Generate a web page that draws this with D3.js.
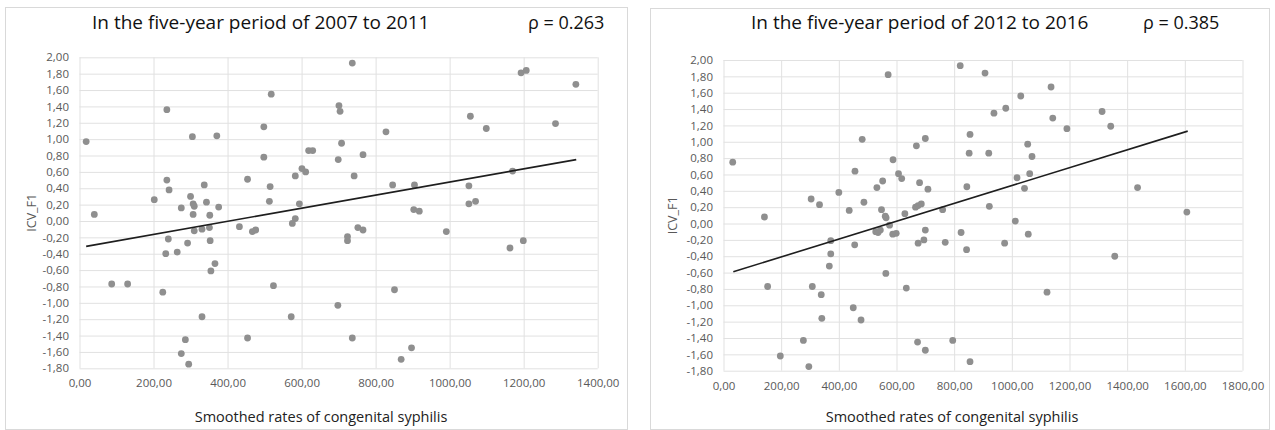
<!DOCTYPE html>
<html><head><meta charset="utf-8">
<script src="https://cdn.jsdelivr.net/npm/d3@7"></script>
<style>
body{margin:0;background:#fff}
text{font-family:"Open Sans",sans-serif}
</style>
</head><body>
<svg id="c" width="1275" height="430"></svg>
<script>
// ---------- data ----------
const yTicks = [2.0,1.8,1.6,1.4,1.2,1.0,0.8,0.6,0.4,0.2,0.0,-0.2,-0.4,-0.6,-0.8,-1.0,-1.2,-1.4,-1.6,-1.8];
const xTicks1 = [0,200,400,600,800,1000,1200,1400];
const xTicks2 = [0,200,400,600,800,1000,1200,1400,1600,1800];
const titles = ["In the five-year period of 2007 to 2011","In the five-year period of 2012 to 2016"];
const rhoLabels = ["\u03c1 = 0.263","\u03c1 = 0.385"];
const xAxisTitle = "Smoothed rates of congenital syphilis";
const yAxisTitle = "ICV_F1";

const points1 = [[18,0.97],[40,0.08],[87,-0.77],[130,-0.77],[202,0.26],[236,1.36],[236,0.50],[242,0.38],[240,-0.22],[233,-0.40],[225,-0.87],[264,-0.38],[275,0.16],[292,-0.27],[300,0.30],[305,1.03],[307,0.21],[310,0.18],[307,0.08],[310,-0.12],[331,-0.10],[337,0.44],[343,0.23],[351,-0.08],[352,0.07],[353,-0.24],[376,0.17],[371,1.04],[366,-0.52],[355,-0.61],[331,-1.17],[286,-1.45],[275,-1.62],[295,-1.75],[454,-1.43],[432,-0.07],[454,0.51],[467,-0.13],[476,-0.11],[498,1.15],[498,0.78],[518,1.55],[515,0.42],[513,0.24],[524,-0.79],[572,-1.17],[583,0.55],[594,0.21],[583,0.03],[575,-0.03],[601,0.64],[611,0.60],[619,0.86],[630,0.86],[698,-1.03],
[701,1.41],[704,1.34],[708,0.95],[699,0.75],[737,1.93],[766,0.81],[742,0.55],[752,-0.08],[766,-0.11],[724,-0.19],[724,-0.24],[737,-1.43],[828,1.09],[846,0.44],[851,-0.84],[869,-1.69],[897,-1.55],[905,0.44],[903,0.14],[918,0.12],[991,-0.13],[1056,1.28],[1099,1.13],[1052,0.43],[1052,0.21],[1070,0.24],[1170,0.61],[1163,-0.33],[1199,-0.24],[1193,1.81],[1207,1.84],[1286,1.19],[1341,1.67]];

const points2 = [[32,0.75],[142,0.08],[153,-0.77],[197,-1.62],[277,-1.43],[296,-1.75],[304,0.30],[333,0.23],[308,-0.77],[339,-0.87],[341,-1.16],[372,-0.21],[372,-0.37],[367,-0.52],[400,0.38],[436,0.16],[456,0.64],[455,-0.26],[450,-1.03],[477,-1.18],[481,1.03],[487,0.26],[532,0.44],[552,0.52],[548,0.17],[561,0.09],[564,0.07],[528,-0.10],[536,-0.11],[544,-0.08],[576,-0.02],[571,1.82],[563,-0.61],[588,0.78],[607,0.61],[618,0.55],[587,-0.13],[599,-0.12],[629,0.12],[634,-0.79],[669,0.95],[700,1.04],[680,0.50],[709,0.42],[666,0.20],[675,0.22],[686,0.24],[675,-0.24],[695,-0.20],[700,-0.08],[673,-1.45],[700,-1.55],[760,0.17],[769,-0.23],[795,-1.43],[821,1.93],[855,1.09],[852,0.86],[844,0.45],[824,-0.11],[843,-0.32],[855,-1.69],
[907,1.84],[1031,1.56],[1136,1.67],[938,1.35],[979,1.41],[1142,1.29],[1191,1.16],[1313,1.37],[1343,1.19],[920,0.86],[1055,0.97],[1070,0.82],[1018,0.56],[1062,0.61],[1044,0.43],[922,0.21],[1012,0.03],[1057,-0.13],[975,-0.24],[1122,-0.84],[1357,-0.40],[1436,0.44],[1607,0.14]];

const trend1 = [[18,-0.31],[1342,0.75]];
const trend2 = [[34,-0.59],[1610,1.13]];

// ---------- layout ----------
const panels = [
  {box:[5,7,627,429], plot:[79.5,57.3,597.7,368.3], xTicks:xTicks1, pts:points1, trend:trend1,
   title:titles[0], rho:rhoLabels[0], titleX:92, rhoX:528, titleY:28.5, xTitleX:321, yTitleX:32},
  {box:[650,8,1269,429], plot:[723.5,60,1242.5,370.7], xTicks:xTicks2, pts:points2, trend:trend2,
   title:titles[1], rho:rhoLabels[1], titleX:751, rhoX:1143, titleY:28.5, xTitleX:952, yTitleX:673}
];

const svg = d3.select('#c');
svg.append('rect').attr('width',1275).attr('height',430).attr('fill','#fff');
const fmt = v => v.toFixed(2).replace('.', ',');

panels.forEach(p => {
  const [bx0,by0,bx1,by1] = p.box;
  svg.append('rect').attr('x',bx0+0.5).attr('y',by0+0.5).attr('width',bx1-bx0).attr('height',by1-by0)
    .attr('fill','#fff').attr('stroke','#d9d9d9').attr('stroke-width',1);

  const [px0,py0,px1,py1] = p.plot;
  const x = d3.scaleLinear().domain([p.xTicks[0], p.xTicks[p.xTicks.length-1]]).range([px0,px1]);
  const y = d3.scaleLinear().domain([-1.8,2.0]).range([py1,py0]);

  const gx = svg.append('g').attr('transform',`translate(0,${py1})`)
    .call(d3.axisBottom(x).tickValues(p.xTicks).tickSize(-(py1-py0)).tickPadding(11).tickFormat(fmt));
  gx.select('.domain').remove();
  gx.selectAll('.tick line').attr('stroke','#e1e1e1');
  gx.selectAll('.tick text').attr('fill','#595959').style('font-size','11.5px').style('font-family','"Open Sans",sans-serif');

  const gy = svg.append('g').attr('transform',`translate(${px0},0)`)
    .call(d3.axisLeft(y).tickValues(yTicks).tickSize(-(px1-px0)).tickPadding(10.5).tickFormat(fmt));
  gy.select('.domain').remove();
  gy.selectAll('.tick line').attr('stroke','#e1e1e1');
  gy.selectAll('.tick text').attr('fill','#595959').style('font-size','11.5px').style('font-family','"Open Sans",sans-serif');

  svg.append('g').selectAll('circle').data(p.pts).join('circle')
    .attr('cx',d=>x(d[0])).attr('cy',d=>y(d[1])).attr('r',3.4).attr('fill','#8f8f8f');

  svg.append('path').datum(p.trend)
    .attr('d', d3.line().x(d=>x(d[0])).y(d=>y(d[1])))
    .attr('stroke','#1e1e1e').attr('stroke-width',1.6).attr('fill','none');

  svg.append('text').attr('x',p.titleX).attr('y',p.titleY).text(p.title)
    .attr('fill','#111').style('font-size','19px');
  svg.append('text').attr('x',p.rhoX).attr('y',p.titleY+0.5).text(p.rho)
    .attr('fill','#111').style('font-size','18px');

  svg.append('text').attr('x',p.xTitleX).attr('y',422).attr('text-anchor','middle').text(xAxisTitle)
    .attr('fill','#222').style('font-size','14.5px');

  const ym = (py0+py1)/2;
  svg.append('text').attr('transform',`translate(${p.yTitleX},${ym}) rotate(-90)`)
    .attr('text-anchor','middle').attr('dy','0.35em').text(yAxisTitle)
    .attr('fill','#595959').style('font-size','12.5px');
});
</script>
</body></html>
